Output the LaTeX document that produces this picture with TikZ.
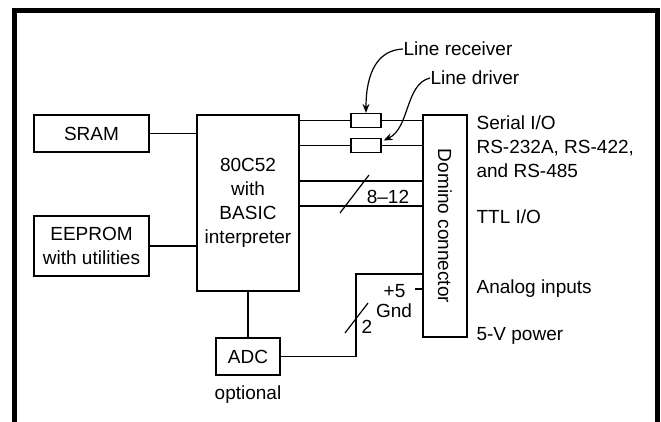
\documentclass[tikz,border=0pt]{standalone}
\usepackage{fontspec}
\setmainfont{Liberation Sans}
\usetikzlibrary{arrows.meta}
\begin{document}
\begin{tikzpicture}[x=1pt, y=-1pt, line width=1.2pt,
		every node/.style={font=\fontsize{19}{24}\selectfont, inner sep=0pt},
		blk/.style={draw, line width=1.2pt, align=center},
		res/.style={draw, line width=1.2pt, minimum width=30pt, minimum height=14pt},
		lbl/.style={anchor=west, align=left}]
	\useasboundingbox (0,0) rectangle (661,421);
	\draw[line width=5pt] (14.5,440) -- (14.5,10.5) -- (657.5,10.5) -- (657.5,440);

	\node[blk, minimum width=115pt, minimum height=37pt] (sram) at (91.5,133.5) {SRAM};
	\node[blk, minimum width=115pt, minimum height=60pt] (eeprom) at (91.5,246) {EEPROM\\with utilities};
	\node[blk, minimum width=102pt, minimum height=176pt] (cpu) at (248,203) {80C52\\with\\BASIC\\interpreter};
	\node[blk, minimum width=64pt, minimum height=37pt] (adc) at (248,356.5) {ADC};
	\node (opt) at (248,395) {optional};
	\node[blk, rotate=-90, minimum width=222pt, minimum height=44pt] (domino) at (445,226) {Domino connector};
	\node[res] (rcv) at (366,120.5) {};
	\node[res] (drv) at (366,145.5) {};

	\node[lbl] (lr) at (403,49) {Line receiver};
	\node[lbl] (ld) at (430,78) {Line driver};
	\node[lbl] (serial) at (476,147) {Serial I/O\\RS-232A, RS-422,\\and RS-485};
	\node[lbl] (ttl) at (476,217) {TTL I/O};
	\node[lbl] (analog) at (476,289) {Analog inputs};
	\node[lbl] (pwr) at (476,336) {5-V power};

	\draw (sram.east) -- (cpu.west |- sram.east);
	\draw (eeprom.east) -- (cpu.west |- eeprom.east);
	\draw (cpu.south) -- (adc.north);

	\draw (cpu.east |- rcv.west) -- (rcv.west);
	\draw (rcv.east) -- (domino.south |- rcv.east);
	\draw (cpu.east |- drv.west) -- (drv.west);
	\draw (drv.east) -- (domino.south |- drv.east);

	\coordinate (bus1) at (299,181);
	\coordinate (bus2) at (299,206);
	\draw (bus1) -- (domino.south |- bus1);
	\draw (bus2) -- (domino.south |- bus2);
	\draw (340,213) -- (369,175);
	\node (bw) at (388,197) {8--12};

	\coordinate (ana) at (356,274);
	\draw (adc.east) -| (ana) -- (domino.south |- ana);
	\draw (345,333) -- (368,303);
	\node (two) at (367,327) {2};

	\coordinate (p5) at (415,289);
	\draw (p5) -- (domino.south |- p5);
	\node[anchor=east] (plus) at (406,291) {+5};
	\node (gnd) at (394,311) {Gnd};

	\draw[-{Stealth[length=9pt, width=7pt]}] (lr.west) .. controls (378,50) and (366,72) .. (rcv.north);
	\draw[-{Stealth[length=9pt, width=7pt]}] (ld.west) .. controls (405,84) and (410,128) .. ([shift={(2,-5)}]drv.east);
\end{tikzpicture}
\end{document}
